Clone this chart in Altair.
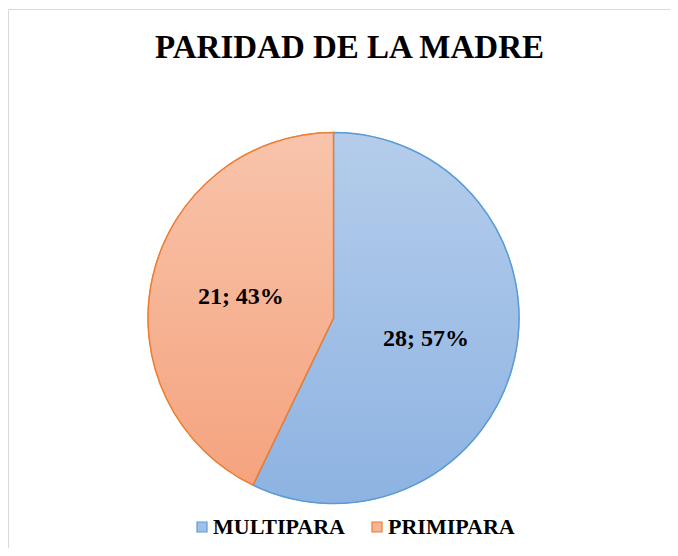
import math
import altair as alt
import pandas as pd

categories = ["MULTIPARA", "PRIMIPARA"]
values = [28, 21]
fill_top = ["#B5CDEB", "#F8C4AB"]
fill_bottom = ["#8DB3E2", "#F5A37E"]
fill_mid = ["#A2C0E7", "#F6B395"]
strokes = ["#5B9BD5", "#ED7D31"]

total = sum(values)
rows = []
cum = 0
for c, v in zip(categories, values):
    rows.append(dict(cat=c, value=v, start=cum, end=cum + v, mid=cum + v / 2,
                     label=f"{v}; {round(100 * v / total)}%"))
    cum += v
df = pd.DataFrame(rows)

W, H = 662, 540
cx, cy, R = 325.5, 310, 185.5

theta_scale = alt.Scale(domain=[0, total], range=[0, 2 * math.pi])
legend = alt.Legend(
    title=None, orient="none", direction="horizontal", legendX=183, legendY=508,
    symbolType="square", symbolSize=100, symbolStrokeWidth=1.2, symbolOpacity=1,
    labelFont="Liberation Serif", labelFontSize=22, labelFontWeight="bold",
    labelColor="black", labelOffset=0, columnPadding=20, padding=0, labelLimit=300,
)

base = alt.Chart(df).encode(
    theta=alt.Theta("start:Q", scale=theta_scale),
    theta2="end:Q",
    x=alt.value(cx),
    y=alt.value(cy),
)

flat = base.mark_arc(outerRadius=R).encode(
    fill=alt.Fill("cat:N", scale=alt.Scale(domain=categories, range=fill_mid), legend=legend),
    stroke=alt.Stroke("cat:N", scale=alt.Scale(domain=categories, range=strokes), legend=legend),
)

layers = [flat]
for i, c in enumerate(categories):
    grad = alt.LinearGradient(
        gradient="linear", x1=0, x2=0, y1=0, y2=1,
        stops=[alt.GradientStop(color=fill_top[i], offset=0),
               alt.GradientStop(color=fill_bottom[i], offset=1)],
    )
    layers.append(
        base.transform_filter(alt.datum.cat == c).mark_arc(
            outerRadius=R, fill=grad, stroke=strokes[i], strokeWidth=1.5
        )
    )

labels = alt.Chart(df).mark_text(
    radius=95, font="Liberation Serif", fontWeight="bold", fontSize=24, color="black"
).encode(
    theta=alt.Theta("mid:Q", scale=theta_scale),
    text="label:N",
    x=alt.value(cx),
    y=alt.value(cy),
)
layers.append(labels)

frame = pd.DataFrame({"k": [0]})
top_edge = alt.Chart(frame).mark_rule(stroke="#D9D9D9", strokeWidth=1).encode(
    x=alt.value(0.5), x2=alt.value(W + 20), y=alt.value(1.5)
)
left_edge = alt.Chart(frame).mark_rule(stroke="#D9D9D9", strokeWidth=1).encode(
    x=alt.value(0.5), y=alt.value(1.5), y2=alt.value(H + 20)
)

chart = alt.layer(top_edge, left_edge, *layers).properties(
    width=W, height=H,
    autosize=alt.AutoSizeParams(type="none"),
    padding=0,
    title=alt.Title("PARIDAD DE LA MADRE", font="Liberation Serif", fontSize=33,
                    fontWeight="bold", color="black", anchor="middle", dx=10.5,
                    baseline="alphabetic", offset=-49.3, dy=34.0),
    background="white",
).configure_view(stroke="transparent")

chart.save("out.html", embed_options={"renderer": "svg", "actions": False})
